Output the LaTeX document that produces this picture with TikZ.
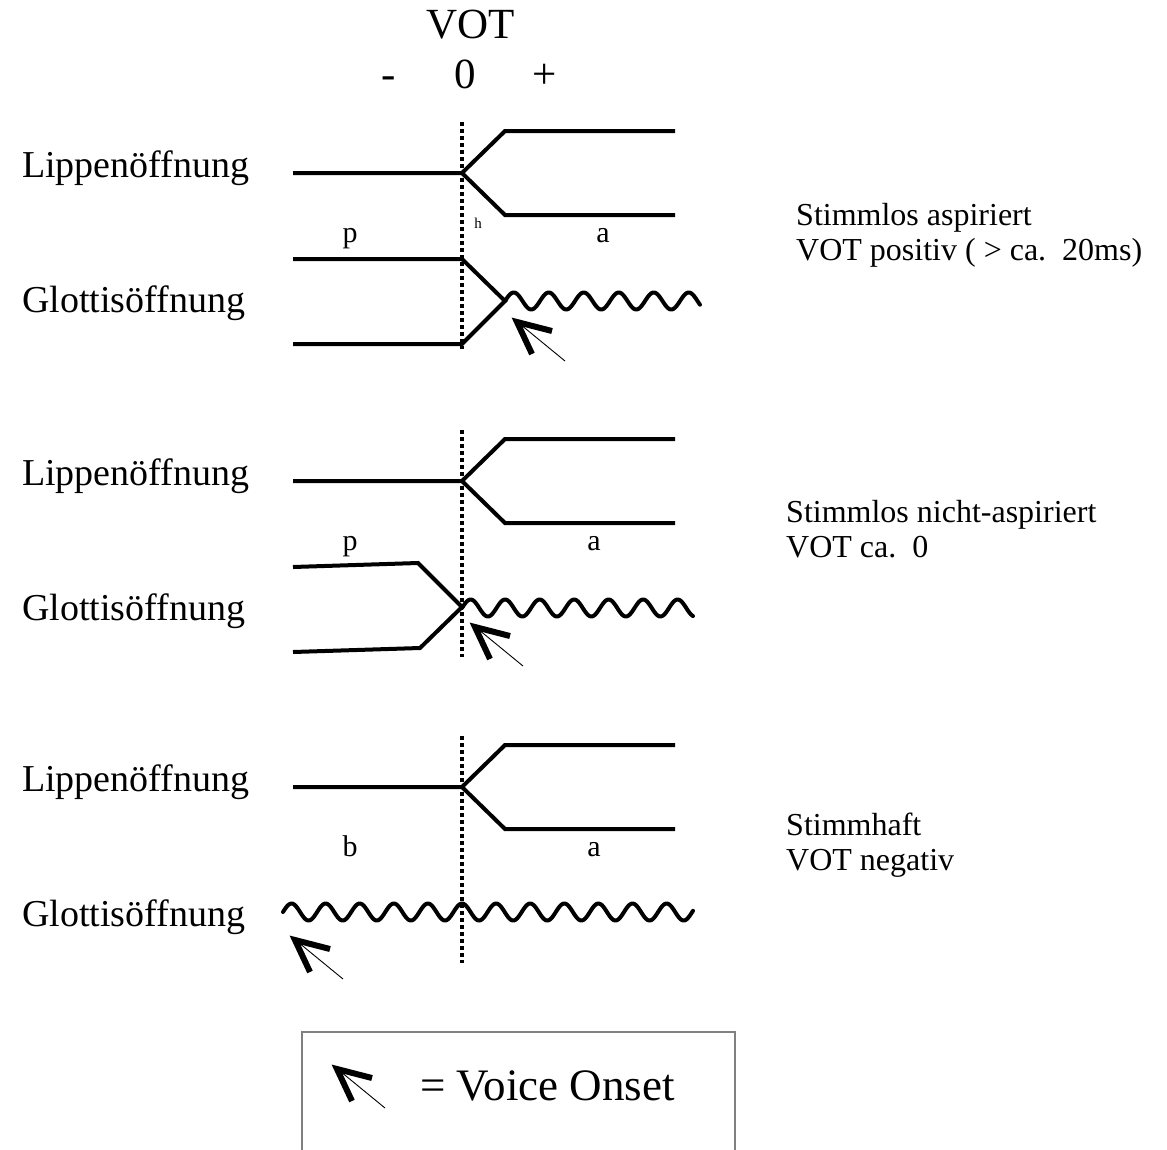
\documentclass[tikz,border=0pt]{standalone}
\usepackage{fontspec}
\setmainfont{Liberation Serif}
\begin{document}
\begin{tikzpicture}[x=1pt,y=-1pt,
  sig/.style={line width=4pt},
  wave/.style={line width=4pt,line join=round,line cap=round},
  zeroline/.style={line width=3.6pt,dash pattern=on 4pt off 3pt},
  biglbl/.style={font=\fontsize{38}{40}\selectfont,inner sep=0pt,anchor=base west},
  desc/.style={font=\fontsize{32}{34}\selectfont,inner sep=0pt,anchor=base west},
  seg/.style={font=\fontsize{30}{32}\selectfont,inner sep=0pt,anchor=base},
  axis/.style={font=\fontsize{43}{45}\selectfont,inner sep=0pt,anchor=base},
  vo/.pic={\draw[line width=0.9pt] (0,0) -- (50,41);
           \draw[line width=6pt,line join=miter] (37,11) -- (2,2) -- (17,34);}]
\useasboundingbox (0,0) rectangle (1167,1149);

% axis header
\node[axis] (vot) at (471,38) {VOT};
\node[axis] (minus) at (389,88) {-};
\node[axis] (zero) at (465,88) {0};
\node[axis] (plus) at (545,88) {+};

% left labels and lip openings
\foreach \dy/\n in {0/1,308/2,614/3}{
  \node[biglbl] (lip\n) at (22,177+\dy) {Lippenöffnung};
  \node[biglbl] (glo\n) at (22,312+\dy) {Glottisöffnung};
  \draw[sig] (293,173+\dy) -- (462,173+\dy) -- (505,131+\dy) -- (675,131+\dy);
  \draw[sig] (462,173+\dy) -- (505,215+\dy) -- (675,215+\dy);
  \draw[zeroline] (462,122+\dy) -- (462,349+\dy);
}

% panel 1: stimmlos aspiriert
\draw[sig] (293,259) -- (462,259) -- (505,301) -- (462,344) -- (293,344);
\draw[wave] plot[domain=505:700,samples=200] (\x,{301-8.5*sin(((\x-505)/35)*360)});
\pic at (515,320) {vo};
\node[seg] (p1) at (350,242) {p};
\node[seg] (a1) at (603,242) {a};
\node[font=\fontsize{15}{16}\selectfont,inner sep=0pt,anchor=base] (h1) at (478,228) {h};
\node[desc] (d1a) at (796,225) {Stimmlos aspiriert};
\node[desc] (d1b) at (796,260) {VOT positiv ( > ca.~~20ms)};

% panel 2: stimmlos nicht-aspiriert
\draw[sig] (293,567) -- (418,563) -- (462,607) -- (420,648) -- (293,652);
\draw[wave] plot[domain=462:693,samples=240] (\x,{608-8.5*sin(((\x-462)/34.5)*360)});
\pic at (473,625) {vo};
\node[seg] (p2) at (350,550) {p};
\node[seg] (a2) at (594,550) {a};
\node[desc] (d2a) at (786,522) {Stimmlos nicht-aspiriert};
\node[desc] (d2b) at (786,557) {VOT ca.~~0};

% panel 3: stimmhaft
\draw[wave] plot[domain=283:693,samples=400] (\x,{912-8.5*sin(((\x-283)/34.1)*360)});
\pic at (293,938) {vo};
\node[seg] (b3) at (350,856) {b};
\node[seg] (a3) at (594,856) {a};
\node[desc] (d3a) at (786,835) {Stimmhaft};
\node[desc] (d3b) at (786,870) {VOT negativ};

% legend
\draw[gray,line width=1.5pt] (302,1152) -- (302,1032) -- (735,1032) -- (735,1152);
\pic at (335,1067) {vo};
\node[font=\fontsize{45}{47}\selectfont,inner sep=0pt,anchor=base west] (legend) at (420,1100) {= Voice Onset};
\end{tikzpicture}
\end{document}
